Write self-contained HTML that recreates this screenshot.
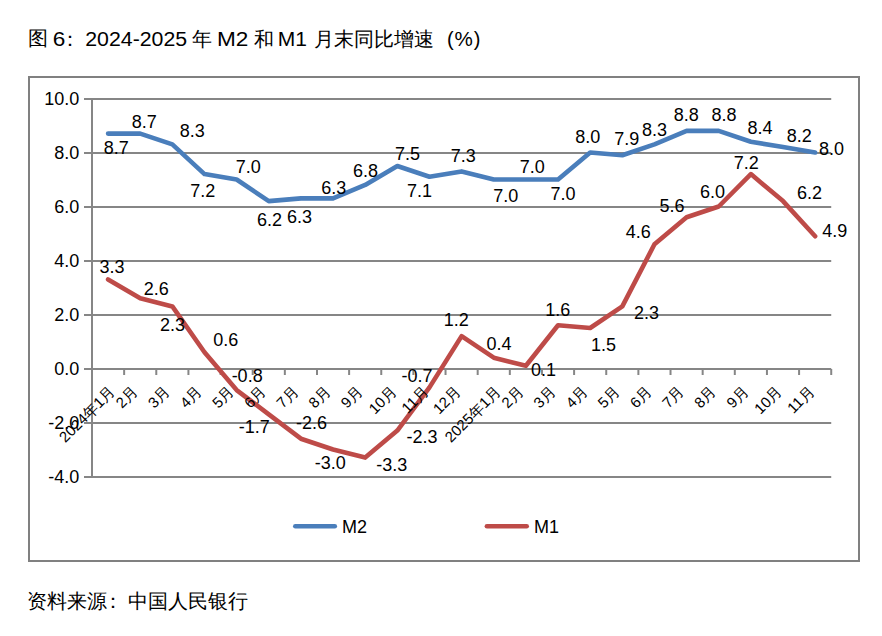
<!DOCTYPE html><html><head><meta charset="utf-8"><style>html,body{margin:0;padding:0;background:#fff;width:882px;height:636px;overflow:hidden}svg{position:absolute;left:0;top:0}.t{font-family:"Liberation Sans",sans-serif;fill:#000}</style></head><body>
<svg width="882" height="636" viewBox="0 0 882 636">
<rect x="29" y="77" width="830" height="484" fill="none" stroke="#808080" stroke-width="2"/>
<line x1="84" y1="99.00" x2="831.22" y2="99.00" stroke="#868686" stroke-width="2"/>
<line x1="84" y1="153.00" x2="831.22" y2="153.00" stroke="#868686" stroke-width="2"/>
<line x1="84" y1="207.00" x2="831.22" y2="207.00" stroke="#868686" stroke-width="2"/>
<line x1="84" y1="261.00" x2="831.22" y2="261.00" stroke="#868686" stroke-width="2"/>
<line x1="84" y1="315.00" x2="831.22" y2="315.00" stroke="#868686" stroke-width="2"/>
<line x1="84" y1="369.00" x2="831.22" y2="369.00" stroke="#868686" stroke-width="2"/>
<line x1="84" y1="423.00" x2="831.22" y2="423.00" stroke="#868686" stroke-width="2"/>
<line x1="84" y1="477.00" x2="831.22" y2="477.00" stroke="#868686" stroke-width="2"/>
<line x1="92.00" y1="98" x2="92.00" y2="478" stroke="#868686" stroke-width="2"/>
<line x1="124.14" y1="369" x2="124.14" y2="375" stroke="#868686" stroke-width="2"/>
<line x1="156.28" y1="369" x2="156.28" y2="375" stroke="#868686" stroke-width="2"/>
<line x1="188.42" y1="369" x2="188.42" y2="375" stroke="#868686" stroke-width="2"/>
<line x1="220.56" y1="369" x2="220.56" y2="375" stroke="#868686" stroke-width="2"/>
<line x1="252.70" y1="369" x2="252.70" y2="375" stroke="#868686" stroke-width="2"/>
<line x1="284.84" y1="369" x2="284.84" y2="375" stroke="#868686" stroke-width="2"/>
<line x1="316.98" y1="369" x2="316.98" y2="375" stroke="#868686" stroke-width="2"/>
<line x1="349.12" y1="369" x2="349.12" y2="375" stroke="#868686" stroke-width="2"/>
<line x1="381.26" y1="369" x2="381.26" y2="375" stroke="#868686" stroke-width="2"/>
<line x1="413.40" y1="369" x2="413.40" y2="375" stroke="#868686" stroke-width="2"/>
<line x1="445.54" y1="369" x2="445.54" y2="375" stroke="#868686" stroke-width="2"/>
<line x1="477.68" y1="369" x2="477.68" y2="375" stroke="#868686" stroke-width="2"/>
<line x1="509.82" y1="369" x2="509.82" y2="375" stroke="#868686" stroke-width="2"/>
<line x1="541.96" y1="369" x2="541.96" y2="375" stroke="#868686" stroke-width="2"/>
<line x1="574.10" y1="369" x2="574.10" y2="375" stroke="#868686" stroke-width="2"/>
<line x1="606.24" y1="369" x2="606.24" y2="375" stroke="#868686" stroke-width="2"/>
<line x1="638.38" y1="369" x2="638.38" y2="375" stroke="#868686" stroke-width="2"/>
<line x1="670.52" y1="369" x2="670.52" y2="375" stroke="#868686" stroke-width="2"/>
<line x1="702.66" y1="369" x2="702.66" y2="375" stroke="#868686" stroke-width="2"/>
<line x1="734.80" y1="369" x2="734.80" y2="375" stroke="#868686" stroke-width="2"/>
<line x1="766.94" y1="369" x2="766.94" y2="375" stroke="#868686" stroke-width="2"/>
<line x1="799.08" y1="369" x2="799.08" y2="375" stroke="#868686" stroke-width="2"/>
<line x1="831.22" y1="369" x2="831.22" y2="375" stroke="#868686" stroke-width="2"/>
<polyline points="108.07,133.60 140.21,133.60 172.35,144.40 204.49,174.10 236.63,179.50 268.77,201.10 300.91,198.40 333.05,198.40 365.19,184.90 397.33,166.00 429.47,176.80 461.61,171.40 493.75,179.50 525.89,179.50 558.03,179.50 590.17,152.50 622.31,155.20 654.45,144.40 686.59,130.90 718.73,130.90 750.87,141.70 783.01,147.10 815.15,152.50" fill="none" stroke="#4A7EBB" stroke-width="4.6" stroke-linejoin="round" stroke-linecap="round"/>
<polyline points="108.07,279.40 140.21,298.30 172.35,306.40 204.49,352.30 236.63,390.10 268.77,414.40 300.91,438.70 333.05,449.50 365.19,457.60 397.33,430.60 429.47,387.40 461.61,336.10 493.75,357.70 525.89,365.80 558.03,325.30 590.17,328.00 622.31,306.40 654.45,244.30 686.59,217.30 718.73,206.50 750.87,174.10 783.01,201.10 815.15,236.20" fill="none" stroke="#BE4B48" stroke-width="4.6" stroke-linejoin="round" stroke-linecap="round"/>
<line x1="295.3" y1="526.3" x2="334.8" y2="526.3" stroke="#4A7EBB" stroke-width="4.6" stroke-linecap="round"/>
<line x1="486.9" y1="526.3" x2="526.7" y2="526.3" stroke="#BE4B48" stroke-width="4.6" stroke-linecap="round"/>
<text class="t" x="103.81" y="153.68" font-size="18">8.7</text>
<text class="t" x="131.71" y="127.78" font-size="18">8.7</text>
<text class="t" x="179.71" y="136.91" font-size="18">8.3</text>
<text class="t" x="190.36" y="197.00" font-size="18">7.2</text>
<text class="t" x="235.86" y="172.74" font-size="18">7.0</text>
<text class="t" x="257.09" y="226.00" font-size="18">6.2</text>
<text class="t" x="286.89" y="223.11" font-size="18">6.3</text>
<text class="t" x="321.19" y="193.51" font-size="18">6.3</text>
<text class="t" x="352.99" y="176.51" font-size="18">6.8</text>
<text class="t" x="394.96" y="159.50" font-size="18">7.5</text>
<text class="t" x="407.06" y="197.00" font-size="18">7.1</text>
<text class="t" x="450.76" y="161.68" font-size="18">7.3</text>
<text class="t" x="493.36" y="202.04" font-size="18">7.0</text>
<text class="t" x="519.66" y="173.14" font-size="18">7.0</text>
<text class="t" x="550.46" y="200.04" font-size="18">7.0</text>
<text class="t" x="575.31" y="143.36" font-size="18">8.0</text>
<text class="t" x="614.16" y="144.75" font-size="18">7.9</text>
<text class="t" x="641.91" y="135.91" font-size="18">8.3</text>
<text class="t" x="673.71" y="120.61" font-size="18">8.8</text>
<text class="t" x="711.41" y="120.61" font-size="18">8.8</text>
<text class="t" x="747.41" y="133.98" font-size="18">8.4</text>
<text class="t" x="786.71" y="141.50" font-size="18">8.2</text>
<text class="t" x="818.91" y="154.96" font-size="18">8.0</text>
<text class="t" x="99.52" y="273.11" font-size="18">3.3</text>
<text class="t" x="143.70" y="294.60" font-size="18">2.6</text>
<text class="t" x="159.90" y="330.60" font-size="18">2.3</text>
<text class="t" x="213.28" y="345.76" font-size="18">0.6</text>
<text class="t" x="231.63" y="381.86" font-size="18">-0.8</text>
<text class="t" x="238.73" y="433.00" font-size="18">-1.7</text>
<text class="t" x="296.03" y="429.30" font-size="18">-2.6</text>
<text class="t" x="314.73" y="468.56" font-size="18">-3.0</text>
<text class="t" x="376.23" y="470.51" font-size="18">-3.3</text>
<text class="t" x="406.43" y="442.70" font-size="18">-2.3</text>
<text class="t" x="401.53" y="382.34" font-size="18">-0.7</text>
<text class="t" x="443.81" y="325.50" font-size="18">1.2</text>
<text class="t" x="486.48" y="350.34" font-size="18">0.4</text>
<text class="t" x="530.98" y="375.70" font-size="18">0.1</text>
<text class="t" x="545.21" y="316.20" font-size="18">1.6</text>
<text class="t" x="591.11" y="351.00" font-size="18">1.5</text>
<text class="t" x="634.00" y="319.00" font-size="18">2.3</text>
<text class="t" x="625.74" y="238.27" font-size="18">4.6</text>
<text class="t" x="659.46" y="211.93" font-size="18">5.6</text>
<text class="t" x="699.99" y="197.76" font-size="18">6.0</text>
<text class="t" x="733.76" y="169.30" font-size="18">7.2</text>
<text class="t" x="796.99" y="198.70" font-size="18">6.2</text>
<text class="t" x="822.14" y="236.75" font-size="18">4.9</text>
<text class="t" x="79.26" y="105.20" font-size="18" text-anchor="end">10.0</text>
<text class="t" x="79.26" y="159.36" font-size="18" text-anchor="end">8.0</text>
<text class="t" x="79.26" y="213.36" font-size="18" text-anchor="end">6.0</text>
<text class="t" x="79.26" y="267.34" font-size="18" text-anchor="end">4.0</text>
<text class="t" x="79.26" y="321.20" font-size="18" text-anchor="end">2.0</text>
<text class="t" x="79.26" y="375.41" font-size="18" text-anchor="end">0.0</text>
<text class="t" x="79.26" y="429.20" font-size="18" text-anchor="end">-2.0</text>
<text class="t" x="79.26" y="483.34" font-size="18" text-anchor="end">-4.0</text>
<text class="t" x="342.11" y="532.70" font-size="18">M2</text>
<text class="t" x="534.11" y="532.70" font-size="18">M1</text>
<text class="t" x="27.81" y="45.41" font-size="20">图</text>
<text class="t" x="52.87" y="46.10" font-size="20" textLength="12.57" lengthAdjust="spacingAndGlyphs">6</text>
<text class="t" x="60.38" y="45.80" font-size="20">：</text>
<text class="t" x="85.27" y="45.90" font-size="20" textLength="101.85" lengthAdjust="spacingAndGlyphs">2024-2025</text>
<text class="t" x="191.96" y="45.54" font-size="20">年</text>
<text class="t" x="216.95" y="45.90" font-size="20" textLength="31.39" lengthAdjust="spacingAndGlyphs">M2</text>
<text class="t" x="253.51" y="45.54" font-size="20">和</text>
<text class="t" x="277.75" y="45.90" font-size="20" textLength="29.21" lengthAdjust="spacingAndGlyphs">M1</text>
<text class="t" x="314.37" y="45.75" font-size="20">月末同比增速</text>
<text class="t" x="446.93" y="45.85" font-size="20">(</text>
<text class="t" x="454.47" y="46.16" font-size="20" textLength="18.30" lengthAdjust="spacingAndGlyphs">%</text>
<text class="t" x="473.87" y="45.85" font-size="20">)</text>
<text class="t" x="26.67" y="607.67" font-size="20">资料来源</text>
<text class="t" x="102.78" y="607.80" font-size="20">：</text>
<text class="t" x="128.38" y="607.53" font-size="20">中国人民银行</text>
<text class="t" x="116.05" y="392.50" font-size="15" text-anchor="end" transform="rotate(-45 116.05 392.50)">2024年1月</text>
<text class="t" x="138.52" y="392.50" font-size="15" text-anchor="end" transform="rotate(-45 138.52 392.50)">2月</text>
<text class="t" x="170.66" y="392.50" font-size="15" text-anchor="end" transform="rotate(-45 170.66 392.50)">3月</text>
<text class="t" x="202.80" y="392.50" font-size="15" text-anchor="end" transform="rotate(-45 202.80 392.50)">4月</text>
<text class="t" x="234.94" y="392.50" font-size="15" text-anchor="end" transform="rotate(-45 234.94 392.50)">5月</text>
<text class="t" x="267.08" y="392.50" font-size="15" text-anchor="end" transform="rotate(-45 267.08 392.50)">6月</text>
<text class="t" x="299.22" y="392.50" font-size="15" text-anchor="end" transform="rotate(-45 299.22 392.50)">7月</text>
<text class="t" x="331.36" y="392.50" font-size="15" text-anchor="end" transform="rotate(-45 331.36 392.50)">8月</text>
<text class="t" x="363.50" y="392.50" font-size="15" text-anchor="end" transform="rotate(-45 363.50 392.50)">9月</text>
<text class="t" x="397.31" y="392.50" font-size="15" text-anchor="end" transform="rotate(-45 397.31 392.50)">10月</text>
<text class="t" x="429.45" y="392.50" font-size="15" text-anchor="end" transform="rotate(-45 429.45 392.50)">11月</text>
<text class="t" x="461.59" y="392.50" font-size="15" text-anchor="end" transform="rotate(-45 461.59 392.50)">12月</text>
<text class="t" x="501.73" y="392.50" font-size="15" text-anchor="end" transform="rotate(-45 501.73 392.50)">2025年1月</text>
<text class="t" x="524.20" y="392.50" font-size="15" text-anchor="end" transform="rotate(-45 524.20 392.50)">2月</text>
<text class="t" x="556.34" y="392.50" font-size="15" text-anchor="end" transform="rotate(-45 556.34 392.50)">3月</text>
<text class="t" x="588.48" y="392.50" font-size="15" text-anchor="end" transform="rotate(-45 588.48 392.50)">4月</text>
<text class="t" x="620.62" y="392.50" font-size="15" text-anchor="end" transform="rotate(-45 620.62 392.50)">5月</text>
<text class="t" x="652.76" y="392.50" font-size="15" text-anchor="end" transform="rotate(-45 652.76 392.50)">6月</text>
<text class="t" x="684.90" y="392.50" font-size="15" text-anchor="end" transform="rotate(-45 684.90 392.50)">7月</text>
<text class="t" x="717.04" y="392.50" font-size="15" text-anchor="end" transform="rotate(-45 717.04 392.50)">8月</text>
<text class="t" x="749.18" y="392.50" font-size="15" text-anchor="end" transform="rotate(-45 749.18 392.50)">9月</text>
<text class="t" x="782.99" y="392.50" font-size="15" text-anchor="end" transform="rotate(-45 782.99 392.50)">10月</text>
<text class="t" x="815.13" y="392.50" font-size="15" text-anchor="end" transform="rotate(-45 815.13 392.50)">11月</text>
</svg>
</body></html>
